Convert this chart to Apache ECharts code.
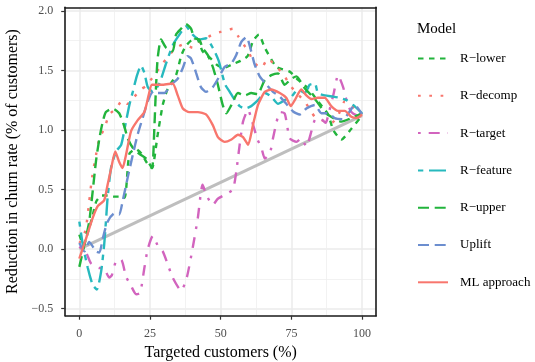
<!DOCTYPE html>
<html>
<head>
<meta charset="utf-8">
<script src="https://cdn.jsdelivr.net/npm/echarts@6/dist/echarts.min.js"></script>
<style>
html, body { margin: 0; padding: 0; background: #fff; }
#main { width: 535px; height: 362px; }
</style>
</head>
<body>
<div id="main"></div>
<script>
var xTicks = [0, 25, 50, 75, 100];
var xMinor = [12.5, 37.5, 62.5, 87.5];
var yTicks = [-0.5, 0, 0.5, 1, 1.5, 2];
var yMinor = [-0.25, 0.25, 0.75, 1.25, 1.75];

var baseline = [[0, 0], [100, 1.12]];

var rLower = [[0,0.12],[1.5,0.03],[3,0.14],[4.5,0.26],[6,0.4],[8,0.45],[10,0.45],[12,0.44],[14,0.44],[16,0.43],
    [17.7,0.8],[20,0.84],[22,0.8],[24,0.72],[25.7,0.68],[27.7,0.96],[29.5,1.21],[31.3,1.35],[34.2,1.46],[36,1.62],
    [37.5,1.7],[39.5,1.75],[41.5,1.77],[43.6,1.66],[46.5,1.6],[48.5,1.55],[51,1.52],[54,1.55],[57,1.58],[59.5,1.62],
    [61.5,1.75],[63.5,1.8],[65.6,1.69],[69.7,1.53],[74.4,1.49],[77.4,1.42],[80.9,1.35],[84.4,1.24],[88,1.13],
    [89.8,1.0],[92.7,0.92],[96.2,1.01],[100,1.12]];

var rDecomp = [[0,0.05],[1.5,0.1],[2.6,0.22],[3.5,0.4],[4.5,0.6],[5.9,0.79],[7.1,0.93],[8.8,1.01],[10.6,1.13],
    [13,1.18],[15.3,1.25],[17,1.22],[19.5,1.28],[21.8,1.34],[23.6,1.37],[26.5,1.46],[29.5,1.56],[31.9,1.63],
    [34.2,1.69],[37.1,1.72],[40.1,1.69],[42.4,1.73],[44.8,1.77],[47.8,1.81],[50.2,1.825],[54.3,1.85],[56.1,1.79],
    [59.7,1.66],[62,1.56],[64.4,1.52],[66.7,1.6],[69.7,1.53],[72.1,1.47],[74.4,1.38],[76.8,1.31],[79.7,1.24],
    [83.3,1.11],[86,1.08],[89.3,1.06],[91.5,1.12],[93.9,1.24],[96.2,1.21],[98.6,1.14],[100,1.13]];

var rTarget = [[0,0.02],[2.4,-0.03],[4.1,-0.12],[7.1,-0.16],[8.5,-0.16],[10.6,-0.24],[11.5,-0.22],[13,-0.1],
    [14.8,-0.09],[16.5,-0.23],[18.3,-0.31],[20.1,-0.38],[21.5,-0.37],[23,-0.16],[24.2,0],[26,0.11],[28.1,0.01],
    [29.5,-0.02],[31.3,-0.13],[33,-0.24],[36,-0.35],[38,-0.24],[40.1,0.01],[41.9,0.26],[43.6,0.54],[45,0.45],
    [47.2,0.37],[48.9,0.42],[51.4,0.455],[54.3,0.5],[55.5,0.65],[56.7,0.875],[57.9,1.07],[59.7,1.17],[61,1.08],
    [63,0.92],[64.4,0.85],[65.6,0.76],[67.4,0.805],[68.5,0.93],[69.7,1.06],[70.9,1.15],[72.6,1.14],[73.4,1.05],
    [74.4,0.93],[76.8,0.9],[78.5,0.93],[80.3,0.86],[82.1,0.99],[83.3,1.085],[85,1.1],[87.1,1.06],[88.3,1.15],
    [90,1.31],[91.5,1.46],[93.3,1.36],[94.5,1.25],[96.2,1.15],[98.6,1.12],[100,1.13]];

var rFeature = [[0,0.23],[1.2,0.04],[3,-0.16],[4.7,-0.3],[6.2,-0.34],[7.7,-0.19],[8.8,0.04],[9.4,0.23],[10,0.43],
    [11.2,0.68],[13,0.82],[14.8,0.875],[16.5,1.07],[17.7,1.21],[18.9,1.32],[20.3,1.45],[21.8,1.54],[23,1.48],
    [24.2,1.36],[26,1.32],[28.3,1.39],[30.7,1.56],[33,1.71],[35.4,1.8],[37.7,1.87],[40.1,1.8],[42.4,1.76],
    [44.8,1.77],[47.2,1.69],[49.3,1.58],[50.5,1.47],[51.6,1.38],[53.2,1.32],[55,1.25],[56.7,1.2],[58.5,1.18],
    [60.8,1.2],[63.2,1.25],[65.6,1.31],[67.9,1.28],[70.3,1.22],[72.6,1.25],[75,1.28],[77.4,1.34],[79.7,1.31],
    [81.5,1.38],[83.3,1.39],[84.4,1.31],[86.8,1.29],[89.8,1.28],[92.1,1.27],[94.5,1.25],[96.8,1.21],[100,1.14]];

var rUpper = [[0,-0.15],[1.8,0.04],[3.5,0.23],[4.7,0.48],[5.9,0.74],[7.1,0.93],[8.3,1.07],[9.4,1.15],[11.8,1.18],
    [14.1,1.14],[15.9,1.03],[17.1,0.93],[18.9,0.85],[21.2,0.8],[23.6,0.76],[25.7,0.68],[26.5,1.0],[27.1,1.35],
    [27.7,1.6],[28.9,1.76],[30.7,1.69],[33,1.66],[34.2,1.8],[36,1.85],[37.7,1.89],[39.5,1.85],[40.7,1.77],
    [42.4,1.76],[43.6,1.69],[45.4,1.63],[47.2,1.53],[49,1.38],[50.7,1.21],[52,1.14],[53.8,1.21],[56.1,1.31],
    [58.5,1.29],[60.8,1.31],[63,1.3],[65.6,1.42],[67.9,1.46],[70.3,1.475],[72.6,1.38],[75,1.43],[76.8,1.45],
    [79.7,1.35],[83.3,1.26],[86.8,1.15],[89.8,1.1],[92.7,1.07],[96.2,1.1],[100,1.14]];

var uplift = [[0,0.05],[1.8,-0.02],[3.5,0.06],[5.9,-0.02],[7.1,-0.03],[8.3,0.09],[10,0.23],[12.4,0.3],[14.1,0.29],
    [15.3,0.4],[17.1,0.6],[18.9,0.79],[20.6,0.96],[22.4,1.1],[24.2,1.24],[26,1.32],[27.7,1.31],[30.1,1.31],
    [32.4,1.38],[34.8,1.43],[36.6,1.52],[38.3,1.62],[39.5,1.6],[41.3,1.48],[43,1.36],[44.8,1.32],[47.2,1.36],
    [49.3,1.44],[51.4,1.53],[53.8,1.56],[55.5,1.63],[57.3,1.74],[59.1,1.78],[60.8,1.66],[62,1.55],[63.8,1.45],
    [66.2,1.38],[68.5,1.32],[70.9,1.28],[73.2,1.22],[75.6,1.155],[78,1.13],[80.3,1.18],[83.3,1.21],[85.6,1.14],
    [88,1.14],[90.3,1.1],[93.3,1.09],[95.6,1.155],[97.4,1.21],[100,1.13]];

var mlApproach = [[0,-0.08],[2.4,0.09],[4.7,0.26],[6.5,0.36],[8.8,0.41],[10,0.54],[11.2,0.67],[12.7,0.82],
    [14.1,0.73],[15.3,0.68],[16.5,0.79],[18.3,0.99],[20.6,1.08],[23,1.15],[24.5,1.29],[25.7,1.38],[29.5,1.38],
    [33,1.39],[34.8,1.29],[36.6,1.18],[38.9,1.15],[41.9,1.15],[44.8,1.13],[47.2,1.04],[49,0.94],[51.4,0.9],
    [53.8,0.92],[56.1,0.96],[57.9,0.94],[59.7,0.875],[61.4,1.04],[63.2,1.21],[65.6,1.32],[67.9,1.34],[70.9,1.31],
    [73.2,1.27],[74.8,1.2],[76.2,1.25],[78.5,1.34],[80.3,1.29],[82.1,1.26],[84.4,1.27],[86.8,1.27],[89.1,1.2],
    [91.5,1.16],[93.9,1.16],[96.2,1.11],[98,1.1],[100,1.13]];

var font = 'Liberation Serif';
var green = '#22B43C';
var salmon = '#F8766D';

function lineSeries(name, data, color, dash) {
    return {
        name: name,
        type: 'line',
        data: data,
        symbol: 'none',
        smooth: 0.2,
        xAxisIndex: 0,
        yAxisIndex: 0,
        lineStyle: {color: color, width: 2.4, type: dash, cap: 'butt'},
        itemStyle: {color: color}
    };
}

var myChart = echarts.init(document.getElementById('main'), null, {renderer: 'canvas'});
var option = {
    animation: false,
    title: {
        text: 'Model',
        left: 412,
        top: 17,
        textStyle: {fontFamily: font, fontSize: 15, fontWeight: 'normal', color: '#000'}
    },
    legend: {
        orient: 'vertical',
        left: 417,
        top: 52,
        padding: 0,
        itemWidth: 30,
        itemHeight: 14,
        itemGap: 24.3,
        itemStyle: {opacity: 0},
        data: ['R\u2212lower', 'R\u2212decomp', 'R\u2212target', 'R\u2212feature', 'R\u2212upper', 'Uplift', 'ML approach'],
        textStyle: {fontFamily: font, fontSize: 13, color: '#000', padding: [0, 0, 0, 7]}
    },
    grid: {left: 65.2, top: 7.3, width: 311, height: 308.4, outerBoundsMode: 'none'},
    xAxis: [
        {
            type: 'value', min: -5, max: 105,
            name: 'Targeted customers (%)',
            nameLocation: 'middle',
            nameGap: 27,
            nameTextStyle: {fontFamily: font, fontSize: 16, color: '#000'},
            axisLine: {show: true, onZero: false, lineStyle: {color: '#1a1a1a', width: 1.6}},
            axisTick: {show: true, length: 4, customValues: xTicks, lineStyle: {color: '#333', width: 1.2}},
            axisLabel: {customValues: xTicks, margin: 12, fontFamily: font, fontSize: 12, color: '#4D4D4D'},
            splitLine: {show: true, lineStyle: {color: '#EBEBEB', width: 1.5}}
        },
        {
            type: 'value', min: -5, max: 105, position: 'top',
            axisLine: {show: true, onZero: false, lineStyle: {color: '#1a1a1a', width: 1.6}},
            axisTick: {show: false, customValues: xMinor},
            axisLabel: {show: false},
            splitLine: {show: true, lineStyle: {color: '#EFEFEF', width: 0.8}}
        }
    ],
    yAxis: [
        {
            type: 'value', min: -0.56, max: 2.03,
            name: 'Reduction in churn rate (% of customers)',
            nameLocation: 'middle',
            nameGap: 43,
            nameTextStyle: {fontFamily: font, fontSize: 16, color: '#000'},
            axisLine: {show: true, onZero: false, lineStyle: {color: '#1a1a1a', width: 1.6}},
            axisTick: {show: true, length: 4, customValues: yTicks, lineStyle: {color: '#333', width: 1.2}},
            axisLabel: {
                customValues: yTicks, margin: 12, fontFamily: font, fontSize: 12, color: '#4D4D4D',
                formatter: function (v) { return v.toFixed(1).replace('-', '\u2212'); }
            },
            splitLine: {show: true, lineStyle: {color: '#EBEBEB', width: 1.5}}
        },
        {
            type: 'value', min: -0.56, max: 2.03, position: 'right',
            axisLine: {show: true, onZero: false, lineStyle: {color: '#1a1a1a', width: 1.6}},
            axisTick: {show: false, customValues: yMinor},
            axisLabel: {show: false},
            splitLine: {show: true, lineStyle: {color: '#EFEFEF', width: 0.8}}
        }
    ],
    series: [
        {
            name: 'baseline',
            type: 'line',
            data: baseline,
            symbol: 'none',
            lineStyle: {color: '#BEBEBE', width: 3},
            itemStyle: {color: '#BEBEBE'}
        },
        lineSeries('R\u2212lower', rLower, green, [5.5, 5.5]),
        lineSeries('R\u2212decomp', rDecomp, salmon, [2.7, 8.6]),
        lineSeries('R\u2212target', rTarget, '#D264BE', [2.7, 8, 11, 8]),
        lineSeries('R\u2212feature', rFeature, '#27B9BE', [5.3, 5.7, 17, 5.7]),
        lineSeries('R\u2212upper', rUpper, green, [11, 5.7]),
        lineSeries('Uplift', uplift, '#6C8ECF', [11, 5.7]),
        lineSeries('ML approach', mlApproach, salmon, 'solid')
    ]
};
myChart.setOption(option);
</script>
</body>
</html>
